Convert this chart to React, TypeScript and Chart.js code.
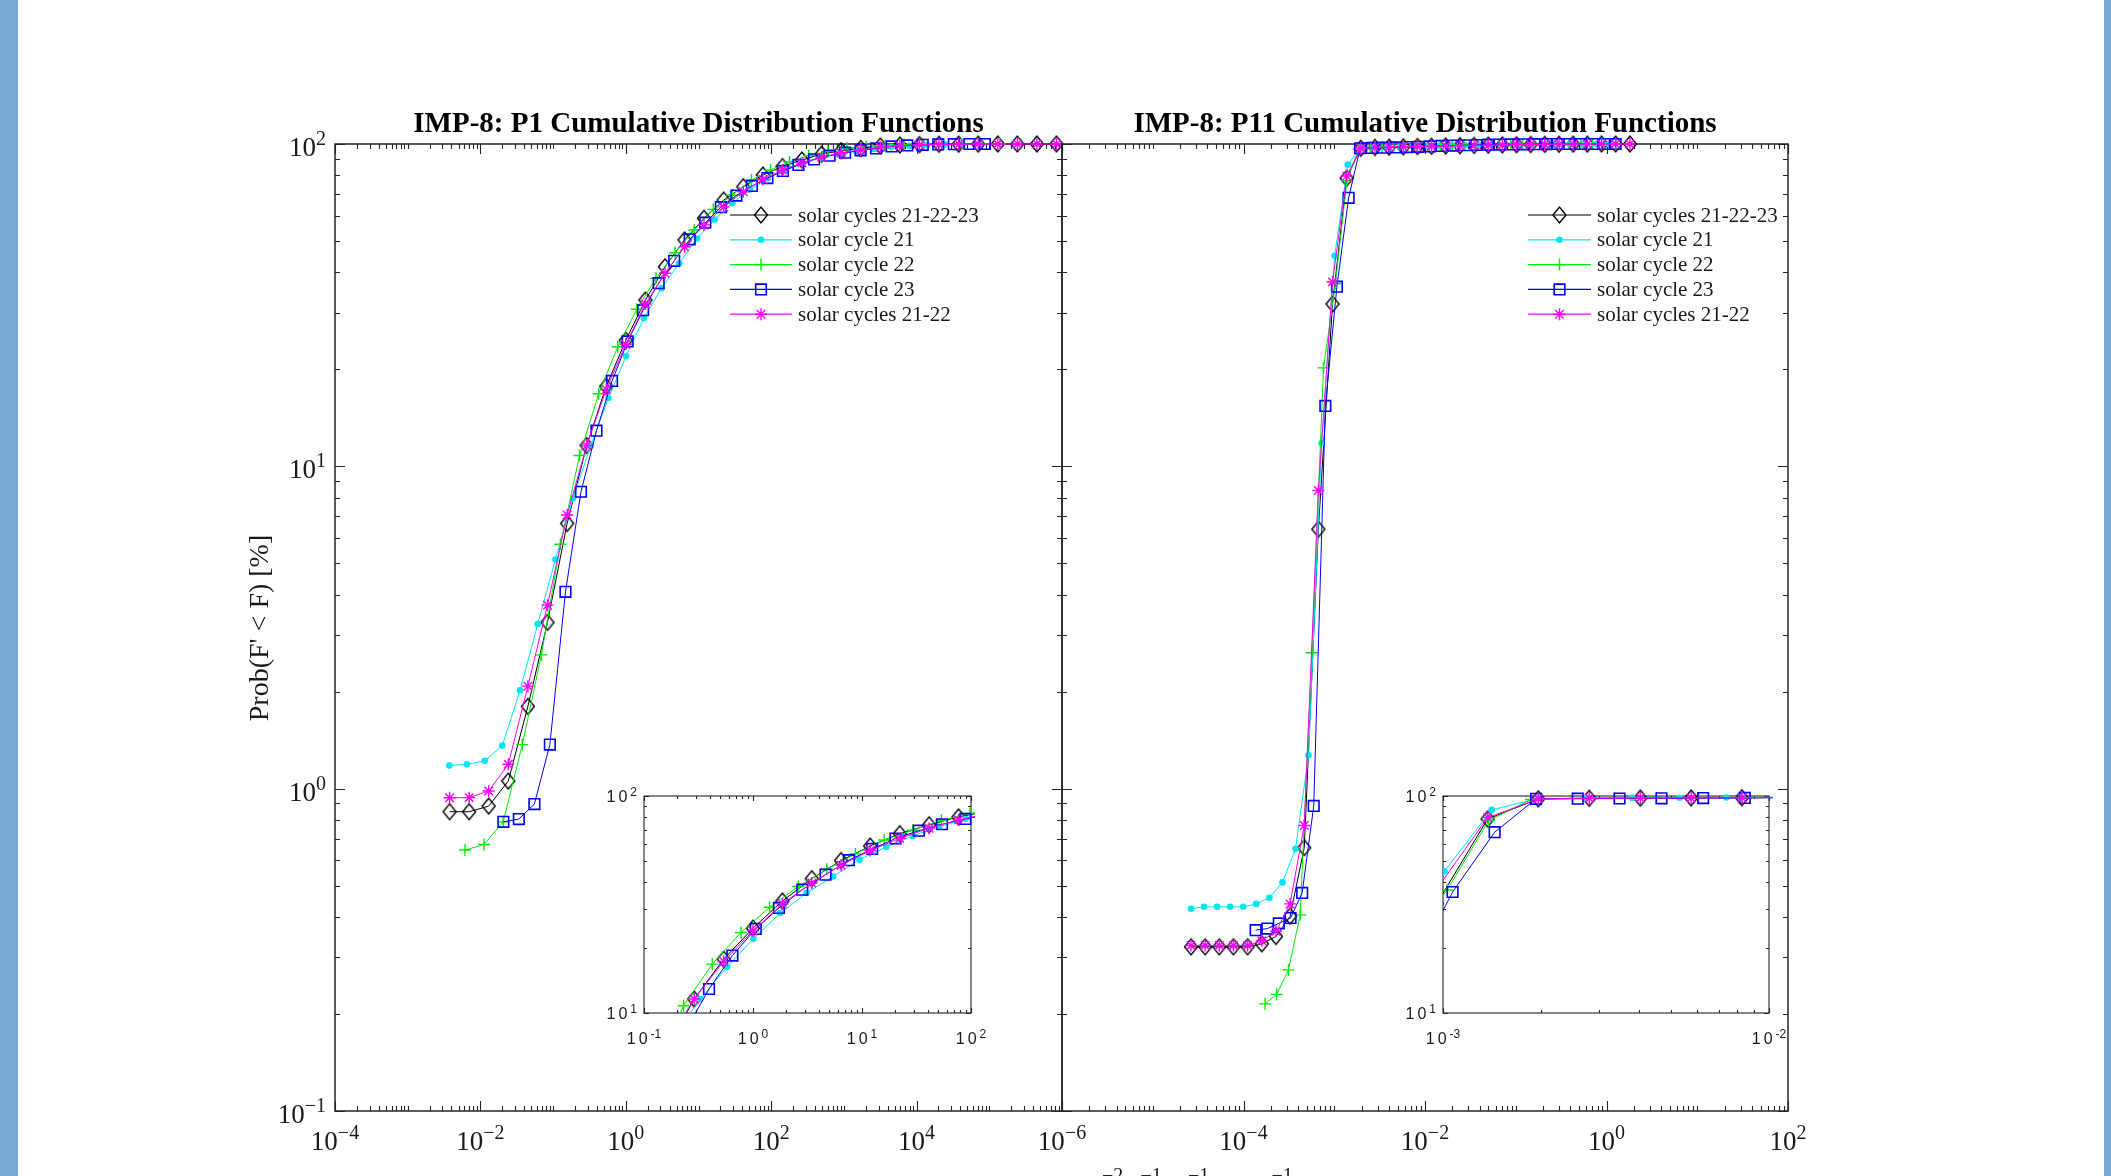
import React, { useEffect, useRef } from "react";
import { Chart, registerables } from "chart.js";
Chart.register(...registerables);

const W = 2111;
const H = 1176;
const SERIF = '"Liberation Serif", "Times New Roman", serif';
const SANS = '"Liberation Sans", Arial, Helvetica, sans-serif';
const MINUS = "\u2212";
const TEXT = "#1a1a1a";
const AXIS = "#262626";

// ---------------- P1 (left panel) data ----------------
const p1BlackX = [0.00377, 0.00701, 0.013, 0.0242, 0.045, 0.0837, 0.156, 0.289, 0.538, 1.0, 1.86, 3.46, 6.43, 11.9, 22.2, 41.3, 76.8, 143, 265, 493, 917, 1706, 3170, 5890, 10960, 20370, 37870, 70400, 130900, 243300, 452000, 840000];
const p1BlackY = [0.848, 0.848, 0.883, 1.056, 1.8, 3.28, 6.65, 11.6, 17.7, 24.6, 32.8, 41.6, 50.4, 58.8, 67.0, 73.7, 80.1, 85.1, 89.2, 93.1, 95.3, 96.9, 98.6, 99.3, 99.6, 99.8, 99.9, 99.95, 100, 100, 100, 100];
const p1CyanX = [0.00373, 0.00653, 0.01145, 0.02, 0.0351, 0.0614, 0.1076, 0.188, 0.33, 0.578, 1.01, 1.77, 3.1, 5.43, 9.51, 16.7, 29.2, 51.1, 89.4, 157, 274, 480, 841, 1472, 2577, 4515, 7906, 13840, 24230, 42460, 74300];
const p1CyanY = [1.18, 1.19, 1.22, 1.36, 2.02, 3.24, 5.14, 7.96, 11.6, 16.3, 22.0, 28.8, 35.7, 42.6, 50.9, 58.3, 65.5, 72.3, 78.3, 83.0, 87.0, 90.5, 93.0, 95.0, 96.5, 97.8, 98.7, 99.3, 99.7, 99.9, 100];
const p1GreenX = [0.00614, 0.0112, 0.0206, 0.0377, 0.069, 0.126, 0.231, 0.423, 0.776, 1.42, 2.6, 4.76, 8.71, 16.0, 29.2, 53.5, 98.0, 179, 329, 602, 1102, 2018, 3695, 6765, 12390, 22680, 41520, 76030, 139200];
const p1GreenY = [0.645, 0.671, 0.789, 1.37, 2.6, 5.73, 10.8, 16.8, 23.5, 30.7, 38.3, 46.0, 54.1, 62.7, 69.5, 77.3, 83.0, 88.0, 92.0, 95.0, 97.0, 98.3, 99.0, 99.5, 99.7, 99.9, 100, 100, 100];
const p1BlueX = [0.0207, 0.0338, 0.0553, 0.0903, 0.148, 0.242, 0.395, 0.647, 1.06, 1.73, 2.83, 4.63, 7.57, 12.4, 20.3, 33.2, 54.2, 88.7, 145, 237, 388, 635, 1038, 1698, 2778, 4543, 7430, 12150, 19870, 32500, 53200, 86900];
const p1BlueY = [0.789, 0.805, 0.896, 1.37, 4.08, 8.34, 12.9, 18.4, 24.4, 30.5, 37.0, 43.4, 50.6, 57.0, 63.7, 69.2, 74.1, 78.4, 82.5, 86.1, 89.6, 92.0, 94.0, 95.6, 96.9, 98.3, 99.0, 99.4, 99.7, 99.9, 100, 100];
const p1MagentaX = [0.00377, 0.00701, 0.013, 0.0242, 0.045, 0.0837, 0.156, 0.289, 0.538, 1.0, 1.86, 3.46, 6.43, 11.9, 22.2, 41.3, 76.8, 143, 265, 493, 917, 1706, 3170, 5890, 10960, 20370, 37870, 70400, 130900, 243300, 452000, 840000];
const p1MagentaY = [0.937, 0.938, 0.983, 1.19, 2.08, 3.71, 7.06, 11.6, 17.3, 23.9, 31.9, 39.7, 48.0, 56.1, 63.8, 71.1, 77.6, 83.0, 87.5, 90.9, 94.0, 95.8, 97.7, 98.8, 99.4, 99.7, 99.85, 99.95, 100, 100, 100, 100];

// ---------------- P11 (right panel) data ----------------
const p11BlackX = [2.64e-5, 3.78e-5, 5.41e-5, 7.75e-5, 1.11e-4, 1.59e-4, 2.28e-4, 3.26e-4, 4.67e-4, 6.68e-4, 9.57e-4, 1.37e-3, 1.96e-3, 2.81e-3, 4.03e-3, 5.77e-3, 8.26e-3, 1.18e-2, 1.69e-2, 2.43e-2, 3.48e-2, 4.98e-2, 7.13e-2, 0.102, 0.146, 0.209, 0.3, 0.43, 0.615, 0.881, 1.26, 1.81];
const p11BlackY = [0.323, 0.323, 0.323, 0.323, 0.323, 0.33, 0.348, 0.402, 0.656, 6.38, 31.9, 78.3, 97.0, 97.6, 97.8, 98.0, 98.2, 98.4, 98.6, 98.8, 99.0, 99.2, 99.3, 99.5, 99.6, 99.7, 99.8, 99.9, 99.95, 100, 100, 100];
const p11CyanX = [2.64e-5, 3.67e-5, 5.12e-5, 7.13e-5, 9.93e-5, 1.38e-4, 1.93e-4, 2.69e-4, 3.74e-4, 5.21e-4, 7.26e-4, 1.01e-3, 1.41e-3, 1.96e-3, 2.74e-3, 3.81e-3, 5.31e-3, 7.4e-3, 1.03e-2, 1.44e-2, 2.0e-2, 2.79e-2, 3.88e-2, 5.41e-2, 7.53e-2, 0.105, 0.146, 0.204, 0.284, 0.395, 0.551, 0.767, 1.07];
const p11CyanY = [0.424, 0.43, 0.43, 0.43, 0.43, 0.439, 0.459, 0.512, 0.651, 1.27, 11.8, 45.0, 86.3, 97.5, 97.8, 98.0, 98.2, 98.4, 98.6, 98.8, 99.0, 99.1, 99.3, 99.4, 99.5, 99.6, 99.7, 99.8, 99.9, 99.95, 100, 100, 100];
const p11GreenX = [1.73e-4, 2.32e-4, 3.13e-4, 4.21e-4, 5.66e-4, 7.62e-4, 1.03e-3, 1.38e-3, 1.86e-3, 2.5e-3, 3.36e-3, 4.52e-3, 6.08e-3, 8.18e-3, 1.1e-2, 1.48e-2, 2.0e-2, 2.69e-2, 3.61e-2, 4.86e-2, 6.54e-2, 8.81e-2, 0.119, 0.159, 0.214, 0.288, 0.388, 0.522, 0.703, 0.946, 1.27];
const p11GreenY = [0.215, 0.23, 0.274, 0.406, 2.64, 20.2, 36.9, 77.0, 96.3, 97.5, 97.8, 98.0, 98.2, 98.4, 98.6, 98.8, 99.0, 99.2, 99.3, 99.5, 99.6, 99.7, 99.8, 99.9, 99.95, 100, 100, 100, 100, 100, 100];
const p11BlueX = [1.36e-4, 1.83e-4, 2.45e-4, 3.3e-4, 4.43e-4, 5.94e-4, 7.98e-4, 1.07e-3, 1.44e-3, 1.93e-3, 2.59e-3, 3.48e-3, 4.68e-3, 6.28e-3, 8.43e-3, 1.13e-2, 1.52e-2, 2.04e-2, 2.74e-2, 3.68e-2, 4.94e-2, 6.64e-2, 8.91e-2, 0.12, 0.161, 0.216, 0.29, 0.389, 0.522, 0.701, 0.942, 1.26];
const p11BlueY = [0.364, 0.368, 0.382, 0.397, 0.475, 0.884, 15.4, 36.1, 68.1, 97.0, 97.2, 97.4, 97.6, 97.8, 98.0, 98.3, 98.6, 98.9, 99.1, 99.3, 99.5, 99.6, 99.7, 99.8, 99.9, 99.95, 100, 100, 100, 100, 100, 100];
const p11MagentaX = [2.64e-5, 3.78e-5, 5.41e-5, 7.75e-5, 1.11e-4, 1.59e-4, 2.28e-4, 3.26e-4, 4.67e-4, 6.68e-4, 9.57e-4, 1.37e-3, 1.96e-3, 2.81e-3, 4.03e-3, 5.77e-3, 8.26e-3, 1.18e-2, 1.69e-2, 2.43e-2, 3.48e-2, 4.98e-2, 7.13e-2, 0.102, 0.146, 0.209, 0.3, 0.43, 0.615, 0.881, 1.26, 1.81];
const p11MagentaY = [0.326, 0.326, 0.326, 0.326, 0.326, 0.3375, 0.361, 0.439, 0.769, 8.41, 37.3, 79.5, 97.0, 97.6, 97.8, 98.0, 98.2, 98.4, 98.6, 98.8, 99.0, 99.2, 99.3, 99.5, 99.6, 99.7, 99.8, 99.9, 99.95, 100, 100, 100];

// ---------------- labels / ticks ----------------
const SERIES_LABELS = ["solar cycles 21-22-23", "solar cycle 21", "solar cycle 22", "solar cycle 23", "solar cycles 21-22"];
const TITLE_P1 = "IMP-8: P1 Cumulative Distribution Functions";
const TITLE_P11 = "IMP-8: P11 Cumulative Distribution Functions";
const Y_LABEL = "Prob(F' < F) [%]";
const X_LABEL_PARTS: [string, boolean][] = [["Flux [cm", false], [MINUS + "2", true], [" s", false], [MINUS + "1", true], [" sr", false], [MINUS + "1", true], [" MeV", false], [MINUS + "1", true], ["]", false]];
const P1_X_TICK_EXP = [-4, -2, 0, 2, 4];
const P1_X_MAJOR_EXP = [-4, -2, 0, 2, 4, 6];
const P11_X_TICK_EXP = [-6, -4, -2, 0, 2];
const MAIN_Y_TICK_EXP = [-1, 0, 1, 2];
const INSET1_X_TICK_EXP = [-1, 0, 1, 2];
const INSET2_X_TICK_EXP = [-3, -2];
const INSET_Y_TICK_EXP = [1, 2];

// ---------------- styles ----------------
type Sty = { color: string; pointStyle: string; radius: number; pbw: number; filled: boolean };
const STYLES: Sty[] = [
  { color: "#000000", pointStyle: "diamond", radius: 8, pbw: 1.4, filled: false },
  { color: "#00E6F2", pointStyle: "circle", radius: 3.3, pbw: 0, filled: true },
  { color: "#00EE00", pointStyle: "cross", radius: 6, pbw: 1.4, filled: false },
  { color: "#0000FF", pointStyle: "rect", radius: 7.5, pbw: 1.6, filled: false },
  { color: "#FF00FF", pointStyle: "star", radius: 6, pbw: 1.4, filled: false },
];
const DIAMOND_HALF_W = 6.5;
const DIAMOND_HALF_H = 8;

let diamondCanvas: HTMLCanvasElement | null = null;
function getDiamond(): HTMLCanvasElement {
  if (diamondCanvas) return diamondCanvas;
  const c = document.createElement("canvas");
  c.width = 2 * Math.ceil(DIAMOND_HALF_W + 2);
  c.height = 2 * Math.ceil(DIAMOND_HALF_H + 2);
  const g = c.getContext("2d") as CanvasRenderingContext2D;
  const cx = c.width / 2, cy = c.height / 2;
  g.strokeStyle = "#000";
  g.lineWidth = 1.4;
  g.beginPath();
  g.moveTo(cx - DIAMOND_HALF_W, cy); g.lineTo(cx, cy - DIAMOND_HALF_H); g.lineTo(cx + DIAMOND_HALF_W, cy); g.lineTo(cx, cy + DIAMOND_HALF_H);
  g.closePath(); g.stroke();
  diamondCanvas = c;
  return c;
}

type Box = { l: number; t: number; r: number; b: number };
const BOX_P1: Box = { l: 335, t: 144, r: 1062, b: 1111 };
const BOX_P11: Box = { l: 1062, t: 144, r: 1788, b: 1111 };
const BOX_IN1: Box = { l: 644, t: 796, r: 971, b: 1013 };
const BOX_IN2: Box = { l: 1443, t: 796, r: 1769, b: 1013 };

function makeDatasets(series: [number[], number[]][], clip: any) {
  return series.map(([xs, ys], i) => {
    const s = STYLES[i];
    return {
      label: SERIES_LABELS[i],
      data: xs.map((x, j) => ({ x, y: ys[j] })),
      borderColor: s.color,
      borderWidth: 1,
      pointStyle: s.pointStyle === "diamond" ? getDiamond() : s.pointStyle,
      pointRadius: s.radius,
      pointBorderWidth: s.pbw,
      pointBorderColor: s.color,
      pointBackgroundColor: s.filled ? s.color : "rgba(0,0,0,0)",
      fill: false,
      tension: 0,
      clip,
      order: 5 - i,
    };
  });
}

function drawMarker(ctx: CanvasRenderingContext2D, s: Sty, x: number, y: number) {
  const r = s.radius;
  ctx.save();
  ctx.strokeStyle = s.color;
  ctx.fillStyle = s.color;
  ctx.lineWidth = s.pbw;
  ctx.beginPath();
  if (s.pointStyle === "diamond") {
    ctx.moveTo(x - DIAMOND_HALF_W, y); ctx.lineTo(x, y - DIAMOND_HALF_H); ctx.lineTo(x + DIAMOND_HALF_W, y); ctx.lineTo(x, y + DIAMOND_HALF_H); ctx.closePath(); ctx.stroke();
  } else if (s.pointStyle === "circle") {
    ctx.arc(x, y, r, 0, Math.PI * 2); ctx.fill();
  } else if (s.pointStyle === "cross") {
    ctx.moveTo(x, y - r); ctx.lineTo(x, y + r); ctx.moveTo(x - r, y); ctx.lineTo(x + r, y); ctx.stroke();
  } else if (s.pointStyle === "rect") {
    const h = r * Math.SQRT1_2; ctx.rect(x - h, y - h, 2 * h, 2 * h); ctx.stroke();
  } else {
    const d = r * Math.SQRT1_2;
    ctx.moveTo(x, y - r); ctx.lineTo(x, y + r); ctx.moveTo(x - r, y); ctx.lineTo(x + r, y);
    ctx.moveTo(x - d, y - d); ctx.lineTo(x + d, y + d); ctx.moveTo(x - d, y + d); ctx.lineTo(x + d, y - d);
    ctx.stroke();
  }
  ctx.restore();
}

function drawLegend(ctx: CanvasRenderingContext2D, x1: number, x2: number, tx: number, y0: number) {
  SERIES_LABELS.forEach((lab, i) => {
    const y = y0 + i * 24.8;
    const s = STYLES[i];
    ctx.save();
    ctx.strokeStyle = s.color;
    ctx.lineWidth = 1.2;
    ctx.beginPath(); ctx.moveTo(x1, y); ctx.lineTo(x2, y); ctx.stroke();
    ctx.restore();
    drawMarker(ctx, s, (x1 + x2) / 2, y);
    ctx.fillStyle = TEXT;
    ctx.font = `21px ${SERIF}`;
    ctx.textAlign = "left";
    ctx.textBaseline = "middle";
    ctx.fillText(lab, tx, y + 1);
  });
}

type LabelCfg = { family: string; base: number; sup: number; raise: number; spacing: number; minus: string };
const MAIN_LBL: LabelCfg = { family: SERIF, base: 27, sup: 20, raise: 11, spacing: 0, minus: MINUS };
const INSET_LBL: LabelCfg = { family: SANS, base: 16, sup: 12, raise: 6, spacing: 3, minus: "-" };

function drawPow(ctx: CanvasRenderingContext2D, x: number, y: number, exp: number, align: "center" | "right", c: LabelCfg) {
  const e = exp < 0 ? c.minus + String(-exp) : String(exp);
  ctx.textAlign = "left";
  ctx.textBaseline = "alphabetic";
  ctx.fillStyle = TEXT;
  ctx.font = `${c.base}px ${c.family}`;
  (ctx as any).letterSpacing = `${c.spacing}px`;
  const wb = ctx.measureText("10").width;
  ctx.font = `${c.sup}px ${c.family}`;
  (ctx as any).letterSpacing = "0px";
  const we = ctx.measureText(e).width;
  const total = wb + we;
  const x0 = align === "center" ? x - total / 2 : x - total;
  ctx.font = `${c.base}px ${c.family}`;
  (ctx as any).letterSpacing = `${c.spacing}px`;
  ctx.fillText("10", x0, y);
  (ctx as any).letterSpacing = "0px";
  ctx.font = `${c.sup}px ${c.family}`;
  ctx.fillText(e, x0 + wb, y - c.raise);
}

type Deco = {
  xr: [number, number];
  yr: [number, number];
  xMajor: number[];
  xLabels: number[];
  yLabels: number[];
  major: number;
  minor: number;
  lw: number;
  fill: boolean;
  lbl: LabelCfg;
  xLabelDy: number;
  yLabelDx: number;
  yLabelDy: number;
  extra?: (ctx: CanvasRenderingContext2D) => void;
};

function decoPlugin(o: Deco) {
  return {
    id: "deco",
    beforeDatasetsDraw(chart: any) {
      const ctx = chart.ctx as CanvasRenderingContext2D;
      const { left: L, right: R, top: T, bottom: B } = chart.chartArea;
      const xs = chart.scales.x;
      const ys = chart.scales.y;
      ctx.save();
      if (o.fill) {
        ctx.fillStyle = "#ffffff";
        ctx.fillRect(L, T, R - L, B - T);
      }
      ctx.strokeStyle = AXIS;
      ctx.lineWidth = 1.1;
      ctx.beginPath();
      for (let d = o.xr[0]; d <= o.xr[1]; d++) {
        for (let m = 1; m <= 9; m++) {
          if (d === o.xr[1] && m > 1) break;
          const px = Math.round(xs.getPixelForValue(m * Math.pow(10, d))) + 0.5;
          const len = m === 1 && o.xMajor.includes(d) ? o.major : o.minor;
          ctx.moveTo(px, B); ctx.lineTo(px, B - len);
          ctx.moveTo(px, T); ctx.lineTo(px, T + len);
        }
      }
      for (let d = o.yr[0]; d <= o.yr[1]; d++) {
        for (let m = 1; m <= 9; m++) {
          if (d === o.yr[1] && m > 1) break;
          const py = Math.round(ys.getPixelForValue(m * Math.pow(10, d))) + 0.5;
          const len = m === 1 ? o.major : o.minor;
          ctx.moveTo(L, py); ctx.lineTo(L + len, py);
          ctx.moveTo(R, py); ctx.lineTo(R - len, py);
        }
      }
      ctx.stroke();
      ctx.lineWidth = o.lw;
      ctx.strokeRect(L, T, R - L, B - T);
      o.xLabels.forEach((e) => drawPow(ctx, xs.getPixelForValue(Math.pow(10, e)), B + o.xLabelDy, e, "center", o.lbl));
      o.yLabels.forEach((e) => drawPow(ctx, L - o.yLabelDx, ys.getPixelForValue(Math.pow(10, e)) + o.yLabelDy, e, "right", o.lbl));
      if (o.extra) o.extra(ctx);
      ctx.restore();
    },
  };
}

function drawTitle(ctx: CanvasRenderingContext2D, text: string, cx: number) {
  ctx.fillStyle = "#000";
  ctx.font = `bold 29px ${SERIF}`;
  ctx.textAlign = "center";
  ctx.textBaseline = "alphabetic";
  ctx.fillText(text, cx, 132);
}

function drawYLabel(ctx: CanvasRenderingContext2D) {
  ctx.save();
  ctx.translate(261, 628);
  ctx.rotate(-Math.PI / 2);
  ctx.fillStyle = TEXT;
  ctx.font = `28px ${SERIF}`;
  ctx.textAlign = "center";
  ctx.textBaseline = "middle";
  ctx.fillText(Y_LABEL, 0, 0);
  ctx.restore();
}

function drawXLabel(ctx: CanvasRenderingContext2D) {
  ctx.save();
  ctx.fillStyle = TEXT;
  ctx.textAlign = "left";
  ctx.textBaseline = "alphabetic";
  ctx.font = `27px ${SERIF}`;
  let x = 1102 - ctx.measureText(X_LABEL_PARTS[0][0]).width;
  const base = 1202;
  X_LABEL_PARTS.forEach(([t, sup]) => {
    ctx.font = sup ? `20px ${SERIF}` : `27px ${SERIF}`;
    ctx.fillText(t, x, sup ? 1182 : base);
    x += ctx.measureText(t).width;
  });
  ctx.restore();
}

function makeConfig(box: Box, xMin: number, xMax: number, yMin: number, yMax: number, series: [number[], number[]][], clip: any, deco: Deco) {
  return {
    type: "line",
    data: { datasets: makeDatasets(series, clip) },
    options: {
      animation: false,
      responsive: false,
      devicePixelRatio: 1,
      events: [],
      layout: { padding: { left: box.l, top: box.t, right: W - box.r, bottom: H - box.b } },
      plugins: { legend: { display: false }, tooltip: { enabled: false }, title: { display: false } },
      scales: {
        x: { type: "logarithmic", min: xMin, max: xMax, display: false },
        y: { type: "logarithmic", min: yMin, max: yMax, display: false },
      },
    },
    plugins: [decoPlugin(deco)],
  } as any;
}

const P1_SERIES: [number[], number[]][] = [[p1BlackX, p1BlackY], [p1CyanX, p1CyanY], [p1GreenX, p1GreenY], [p1BlueX, p1BlueY], [p1MagentaX, p1MagentaY]];
const P11_SERIES: [number[], number[]][] = [[p11BlackX, p11BlackY], [p11CyanX, p11CyanY], [p11GreenX, p11GreenY], [p11BlueX, p11BlueY], [p11MagentaX, p11MagentaY]];

const INSET_CLIP = { left: 0, top: 12, right: 4, bottom: 0 };

function buildConfigs() {
  return [
    makeConfig(BOX_P1, 1e-4, 1e6, 0.1, 100, P1_SERIES, false, {
      xr: [-4, 6], yr: [-1, 2], xMajor: P1_X_MAJOR_EXP, xLabels: P1_X_TICK_EXP, yLabels: MAIN_Y_TICK_EXP,
      major: 10, minor: 5, lw: 1.5, fill: false, lbl: MAIN_LBL, xLabelDy: 39, yLabelDx: 9, yLabelDy: 12,
      extra: (ctx) => { drawTitle(ctx, TITLE_P1, 698.5); drawYLabel(ctx); drawLegend(ctx, 730, 792, 798, 215); },
    }),
    makeConfig(BOX_P11, 1e-6, 1e2, 0.1, 100, P11_SERIES, false, {
      xr: [-6, 2], yr: [-1, 2], xMajor: P11_X_TICK_EXP, xLabels: P11_X_TICK_EXP, yLabels: [],
      major: 10, minor: 5, lw: 1.5, fill: false, lbl: MAIN_LBL, xLabelDy: 39, yLabelDx: 9, yLabelDy: 12,
      extra: (ctx) => { drawTitle(ctx, TITLE_P11, 1425); drawLegend(ctx, 1528, 1591, 1597, 215); drawXLabel(ctx); },
    }),
    makeConfig(BOX_IN1, 0.1, 100, 10, 100, P1_SERIES, INSET_CLIP, {
      xr: [-1, 2], yr: [1, 2], xMajor: INSET1_X_TICK_EXP, xLabels: INSET1_X_TICK_EXP, yLabels: INSET_Y_TICK_EXP,
      major: 5, minor: 3, lw: 1.1, fill: true, lbl: INSET_LBL, xLabelDy: 31, yLabelDx: 7, yLabelDy: 6,
    }),
    makeConfig(BOX_IN2, 1e-3, 1e-2, 10, 100, P11_SERIES, INSET_CLIP, {
      xr: [-3, -2], yr: [1, 2], xMajor: INSET2_X_TICK_EXP, xLabels: INSET2_X_TICK_EXP, yLabels: INSET_Y_TICK_EXP,
      major: 5, minor: 3, lw: 1.1, fill: true, lbl: INSET_LBL, xLabelDy: 31, yLabelDx: 7, yLabelDy: 6,
    }),
  ];
}

export default function App() {
  const r0 = useRef<HTMLCanvasElement>(null);
  const r1 = useRef<HTMLCanvasElement>(null);
  const r2 = useRef<HTMLCanvasElement>(null);
  const r3 = useRef<HTMLCanvasElement>(null);
  const refs = [r0, r1, r2, r3];

  useEffect(() => {
    const cfgs = buildConfigs();
    const charts = refs.map((r, i) => new Chart(r.current as HTMLCanvasElement, cfgs[i]));
    return () => charts.forEach((c) => c.destroy());
  }, []);

  return (
    <div style={{ position: "fixed", left: 0, top: 0, width: W, height: H, background: "#ffffff", overflow: "hidden" }}>
      <div style={{ position: "absolute", left: 0, top: 0, width: 18, height: H, background: "#7BA7D3" }} />
      <div style={{ position: "absolute", left: 2104, top: 0, width: 7, height: H, background: "#7BA7D3" }} />
      {refs.map((r, i) => (
        <canvas key={i} ref={r} width={W} height={H} style={{ position: "absolute", left: 0, top: 0, width: W, height: H }} />
      ))}
    </div>
  );
}
